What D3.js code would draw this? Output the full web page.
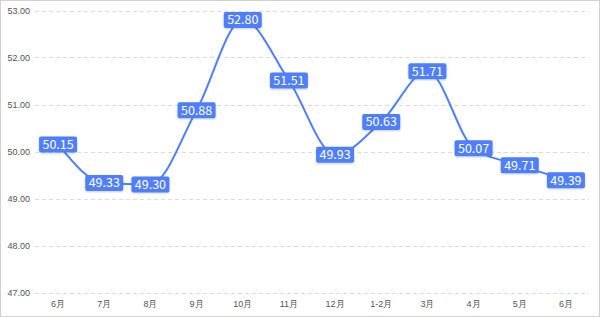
<!DOCTYPE html>
<html>
<head>
<meta charset="utf-8">
<script src="https://cdn.jsdelivr.net/npm/d3@7"></script>
<style>
  body { margin: 0; background: #fff; }
  svg { display: block; font-family: "Noto Sans CJK SC", "DejaVu Sans", sans-serif; }
</style>
</head>
<body>
<svg></svg>
<script>
let months = ["6月", "7月", "8月", "9月", "10月", "11月", "12月", "1-2月", "3月", "4月", "5月", "6月"];
let values = [50.15, 49.33, 49.30, 50.88, 52.80, 51.51, 49.93, 50.63, 51.71, 50.07, 49.71, 49.39];
let yTicks = [47, 48, 49, 50, 51, 52, 53];

// 600 x 317 picture

let width = 600;
let height = 317;
let margin = {top: 10.5, right: 11, bottom: 24.5, left: 35};
let blue = "#4f7fff";

let svg = d3.select("svg")
            .attr("width", width)
            .attr("height", height);

svg.append("rect")
    .attr("x", 0.5).attr("y", 0.5)
    .attr("width", width - 1).attr("height", height - 1)
    .attr("fill", "#fff")
    .attr("stroke", "#d0d0d0");

let xScale = d3.scaleBand()
              .domain(d3.range(months.length))
              .range([margin.left, width - margin.right]);

let yScale = d3.scaleLinear()
              .domain([47, 53])
              .range([height - margin.bottom, margin.top]);

// grid
svg.append("g")
    .selectAll("line")
    .data(yTicks)
    .join("line")
    .attr("x1", margin.left)
    .attr("x2", width - margin.right)
    .attr("y1", d => Math.round(yScale(d)) + 0.5)
    .attr("y2", d => Math.round(yScale(d)) + 0.5)
    .attr("stroke", "#dcdcdc")
    .attr("stroke-dasharray", "4,3");

let yAxis = d3.axisLeft(yScale).tickValues(yTicks).tickFormat(d3.format(".2f")).tickSize(0).tickPadding(5);
svg.append("g")
    .attr("transform", `translate(${margin.left}, 0)`)
    .call(yAxis)
    .call(g => g.select(".domain").remove())
    .selectAll("text")
    .attr("fill", "#555")
    .style("font-size", "9px");

let xAxis = d3.axisBottom(xScale).tickFormat(i => months[i]).tickSize(0).tickPadding(8);
svg.append("g")
    .attr("transform", `translate(0, ${height - margin.bottom})`)
    .call(xAxis)
    .call(g => g.select(".domain").remove())
    .selectAll("text")
    .attr("fill", "#555")
    .style("font-size", "9px");

let cx = i => xScale(i) + xScale.bandwidth() / 2;

let line = d3.line()
            .x((d, i) => cx(i))
            .y(d => yScale(d))
            .curve(d3.curveMonotoneX);

svg.append("path")
    .datum(values)
    .attr("d", line)
    .attr("fill", "none")
    .attr("stroke", blue)
    .attr("stroke-width", 2);

let defs = svg.append("defs");
defs.append("filter").attr("id", "sh")
    .append("feDropShadow")
    .attr("dx", 0).attr("dy", 1).attr("stdDeviation", 1)
    .attr("flood-color", "#000").attr("flood-opacity", 0.2);

let labels = svg.append("g")
    .selectAll("g")
    .data(values)
    .join("g")
    .attr("transform", (d, i) => `translate(${cx(i)}, ${yScale(d)})`);

labels.append("rect")
    .attr("x", -19).attr("y", -8)
    .attr("width", 38).attr("height", 16)
    .attr("rx", 2)
    .attr("fill", blue)
    .attr("filter", "url(#sh)");

labels.append("text")
    .attr("text-anchor", "middle")
    .attr("dy", "0.36em")
    .attr("fill", "#fff")
    .style("font-size", "12.5px")
    .text(d => d.toFixed(2));
</script>
</body>
</html>
